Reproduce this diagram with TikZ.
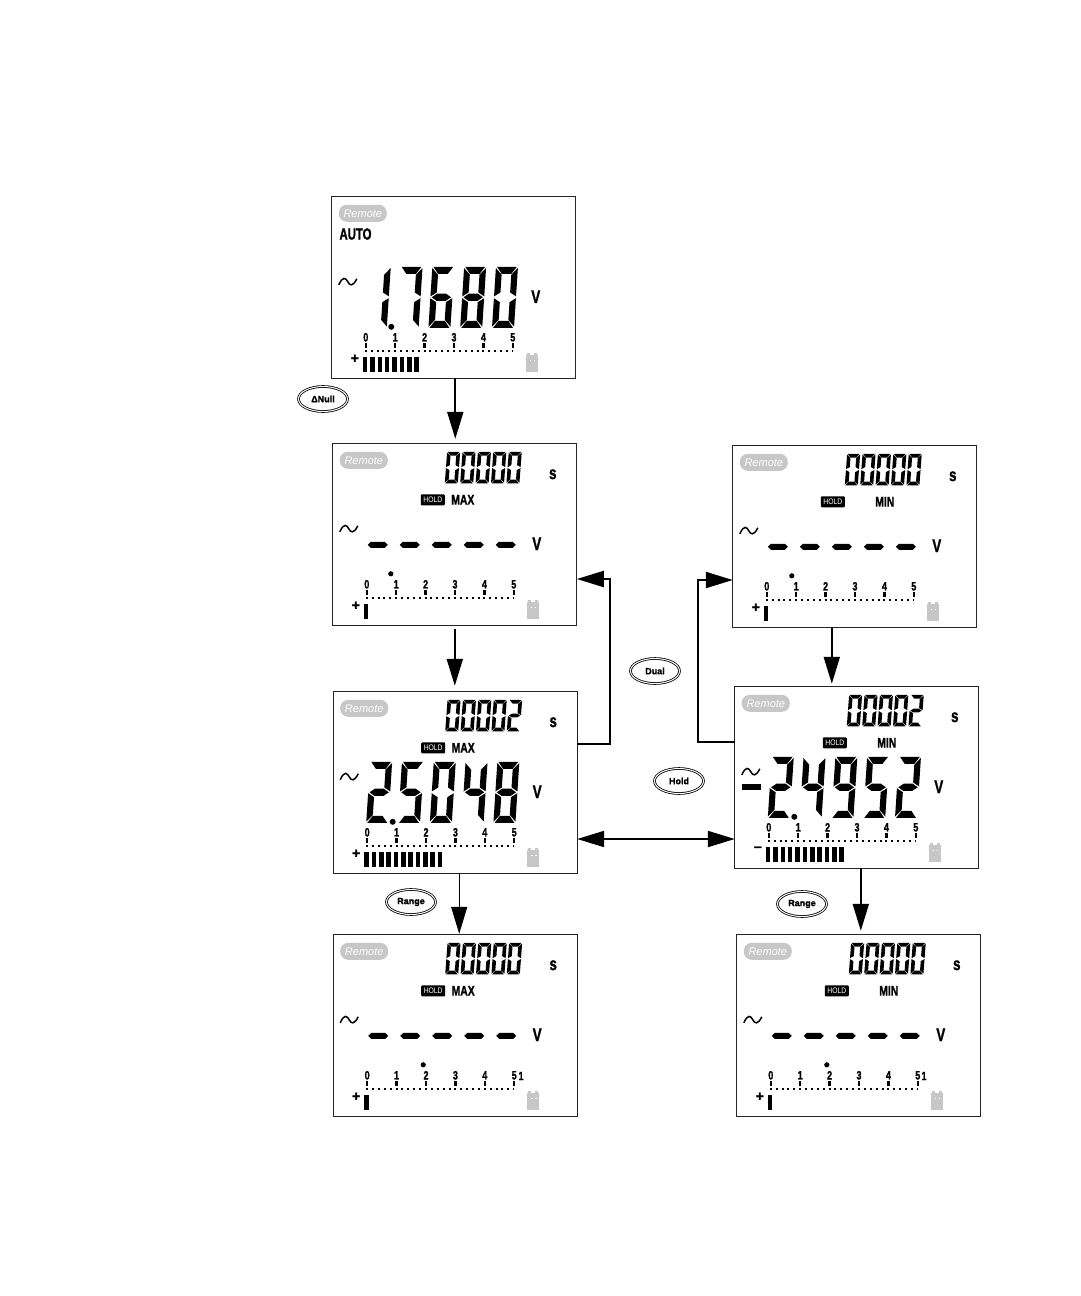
\documentclass[tikz,border=0pt]{standalone}
\usepackage{fontspec}
\setsansfont[BoldFeatures={FakeBold=1.6}]{Liberation Sans}
\usetikzlibrary{positioning,arrows.meta,shapes.geometric}

\tikzset{
  lcdframe/.style={draw=black!85,line width=0.9pt,anchor=north west,minimum width=244pt,minimum height=181.5pt,inner sep=0pt,outer sep=0pt},
  lcdpill/.style={fill=black!22,rounded corners=8pt,minimum width=48pt,minimum height=17pt,inner sep=0pt,text=white,font=\sffamily\itshape\fontsize{11}{11}\selectfont},
  lcdhold/.style={fill=black,rounded corners=1pt,minimum width=24pt,minimum height=11pt,inner sep=0pt,text=white,font=\sffamily\fontsize{8}{8}\selectfont},
  lcdword/.style={inner sep=0pt,font=\sffamily\bfseries\fontsize{14}{14}\selectfont},
  lcdunit/.style={inner sep=0pt,font=\sffamily\bfseries\fontsize{18}{18}\selectfont},
  lcdtick/.style={inner sep=0pt,font=\sffamily\bfseries\fontsize{12}{12}\selectfont},
  lcdvalue/.style={inner sep=0pt,text opacity=0,font=\sffamily\fontsize{#1}{#1}\selectfont},
  lcdkey/.style={ellipse,draw,double,double distance=1pt,line width=0.8pt,minimum width=49pt,minimum height=25pt,inner sep=0pt,font=\sffamily\bfseries\fontsize{9}{9}\selectfont},
  flowarrow/.style={line width=2pt,-{Triangle[length=27pt,width=16pt]}},
  flowboth/.style={line width=2pt,{Triangle[length=27pt,width=16pt]}-{Triangle[length=27pt,width=16pt]}},
}

\newcommand{\lcdnarrow}[1]{\scalebox{.74}[1]{#1}}

% segments of one digit, 1 wide, 2 high, sitting on y=0
\newcommand{\lcdsega}{\fill (.05,-2) -- (.95,-2) -- (.72,-1.77) -- (.28,-1.77) -- cycle;}
\newcommand{\lcdsegb}{\fill (1,-1.96) -- (1,-1.03) -- (.72,-1.16) -- (.72,-1.74) -- cycle;}
\newcommand{\lcdsegc}{\fill (1,-.97) -- (1,-.04) -- (.72,-.26) -- (.72,-.84) -- cycle;}
\newcommand{\lcdsegd}{\fill (.05,0) -- (.95,0) -- (.72,-.23) -- (.28,-.23) -- cycle;}
\newcommand{\lcdsege}{\fill (0,-.97) -- (.28,-.84) -- (.28,-.26) -- (0,-.04) -- cycle;}
\newcommand{\lcdsegf}{\fill (0,-1.96) -- (.28,-1.74) -- (.28,-1.16) -- (0,-1.03) -- cycle;}
\newcommand{\lcdsegg}{\fill (.06,-1) -- (.3,-1.12) -- (.7,-1.12) -- (.94,-1) -- (.7,-.88) -- (.3,-.88) -- cycle;}
\newcommand{\lcddigit}[1]{%
  \ifcase#1\relax
    \lcdsega\lcdsegb\lcdsegc\lcdsegd\lcdsege\lcdsegf
  \or \lcdsegb\lcdsegc
  \or \lcdsega\lcdsegb\lcdsegg\lcdsege\lcdsegd
  \or \lcdsega\lcdsegb\lcdsegg\lcdsegc\lcdsegd
  \or \lcdsegf\lcdsegg\lcdsegb\lcdsegc
  \or \lcdsega\lcdsegf\lcdsegg\lcdsegc\lcdsegd
  \or \lcdsega\lcdsegf\lcdsegg\lcdsege\lcdsegc\lcdsegd
  \or \lcdsega\lcdsegb\lcdsegc
  \or \lcdsega\lcdsegb\lcdsegc\lcdsegd\lcdsege\lcdsegf\lcdsegg
  \or \lcdsega\lcdsegb\lcdsegc\lcdsegd\lcdsegf\lcdsegg
  \fi}

% name, x, y of the screen
\newcommand{\lcdscreen}[3]{%
  \node[lcdframe] (#1) at (#2,#3) {};
  \begin{scope}[shift={(#2,#3)}]
    \node[lcdpill] (#1-remote) at (31,16.5) {Remote};
    \draw[line width=1.5pt] (7,88) .. controls (11,79) and (14,81) .. (16,85) .. controls (18,89) and (21,90) .. (25,82);
    \node[lcdunit] (#1-unit) at (204,100) {\lcdnarrow{V}};
    \draw[line width=2pt,dash pattern=on 2pt off 3.88pt] (33,153.7) -- (181,153.7);
    \foreach \t in {0,...,5}{
      \draw[line width=2.4pt] ({34+\t*29.4},146) -- ({34+\t*29.4},151);
      \node[lcdtick] (#1-tick\t) at ({34+\t*29.4},140.5) {\lcdnarrow{\t}};
    }
    \fill[black!22] (194,158) rectangle (206,175);
    \fill[black!22] (195,156) rectangle (198,158);
    \fill[black!22] (202,156) rectangle (205,158);
    \fill[white] (198,163) rectangle (199.5,164.5);
    \fill[white] (202,163) rectangle (203.5,164.5);
  \end{scope}}

% screen x, screen y, number of bars, sign
\newcommand{\lcdbars}[4]{%
  \begin{scope}[shift={(#1,#2)}]
    \foreach \k in {1,...,#3}{\fill ({31+(\k-1)*7.35},160) rectangle ({35.6+(\k-1)*7.35},175.5);}
    \node[lcdword] (sign#1) at (23,162) {#4};
  \end{scope}}

% screen x, screen y, digit list, text of the value
\newcommand{\lcdbig}[4]{%
  \begin{scope}[shift={(#1,#2)}]
    \node[lcdvalue=40] (value#1) at (110,102) {#4};
    \foreach \d [count=\k from 0] in {#3}{
      \begin{scope}[shift={({33+\k*31.8},131)},xscale=22,yscale=30.5,xslant=-.09]
        \lcddigit{\d}
      \end{scope}
    }
    \fill (59.5,130) circle (3);
  \end{scope}}
\newcommand{\lcdsmall}[4]{%
  \begin{scope}[shift={(#1,#2)}]
    \node[lcdvalue=22] (timer#1) at (150,24) {#4};
    \foreach \d [count=\k from 0] in {#3}{
      \begin{scope}[shift={({112+\k*15.4},39.5)},xscale=13,yscale=15.7,xslant=-.09]
        \lcddigit{\d}
      \end{scope}
    }
    \node[lcdunit] (secs#1) at (220,30.5) {\lcdnarrow{s}};
  \end{scope}}
% screen x, screen y, word, x of the word
\newcommand{\lcdhold}[4]{%
  \begin{scope}[shift={(#1,#2)}]
    \node[lcdhold] (hold#1) at (100,56) {\scalebox{.85}[1]{HOLD}};
    \node[lcdword] (word#1) at (#4,56) {\lcdnarrow{#3}};
  \end{scope}}
% screen x, screen y, x of the pointer dot
\newcommand{\lcdwait}[3]{%
  \begin{scope}[shift={(#1,#2)}]
    \foreach \c in {45,77,109,141,173}{
      \fill (\c-10,101) -- (\c-7,98) -- (\c+7,98) -- (\c+10,101) -- (\c+7,104) -- (\c-7,104) -- cycle;
    }
    \fill (#3,130) circle (2.6);
  \end{scope}}

\begin{document}
\begin{tikzpicture}[x=1pt,y=1pt,yscale=-1,xscale=1]
\useasboundingbox (0,0) rectangle (1080,1296);

% Left column
\lcdscreen{scrAuto}{331.8}{196.8}
\node[lcdword,font=\sffamily\bfseries\fontsize{16}{16}\selectfont] (autoWord) at (355.5,234) {\scalebox{.71}[1]{AUTO}};
\lcdbig{331.8}{196.8}{1,7,6,8,0}{1.7680}
\lcdbars{331.8}{196.8}{8}{+}

\lcdscreen{scrMaxZero}{332.8}{443.8}
\lcdsmall{332.8}{443.8}{0,0,0,0,0}{00000}
\lcdhold{332.8}{443.8}{MAX}{130}
\lcdwait{332.8}{443.8}{58}
\lcdbars{332.8}{443.8}{1}{+}

\lcdscreen{scrMaxRead}{333.2}{691.8}
\lcdsmall{333.2}{691.8}{0,0,0,0,2}{00002}
\lcdhold{333.2}{691.8}{MAX}{130}
\lcdbig{333.2}{691.8}{2,5,0,4,8}{2.5048}
\lcdbars{333.2}{691.8}{11}{+}

\lcdscreen{scrMaxReset}{333.2}{934.8}
\lcdsmall{333.2}{934.8}{0,0,0,0,0}{00000}
\lcdhold{333.2}{934.8}{MAX}{130}
\lcdwait{333.2}{934.8}{90}
\lcdbars{333.2}{934.8}{1}{+}
\node[lcdtick] (maxExtra) at (521,1076) {\lcdnarrow{1}};

% Right column
\lcdscreen{scrMinZero}{732.8}{445.8}
\lcdsmall{732.8}{445.8}{0,0,0,0,0}{00000}
\lcdhold{732.8}{445.8}{MIN}{152}
\lcdwait{732.8}{445.8}{59}
\lcdbars{732.8}{445.8}{1}{+}

\lcdscreen{scrMinRead}{734.8}{686.8}
\lcdsmall{734.8}{686.8}{0,0,0,0,2}{00002}
\lcdhold{734.8}{686.8}{MIN}{152}
\lcdbig{734.8}{686.8}{2,4,9,5,2}{-2.4952}
\fill (742,784) rectangle (761,790);
\lcdbars{734.8}{686.8}{11}{--}

\lcdscreen{scrMinReset}{736.8}{934.8}
\lcdsmall{736.8}{934.8}{0,0,0,0,0}{00000}
\lcdhold{736.8}{934.8}{MIN}{152}
\lcdwait{736.8}{934.8}{90}
\lcdbars{736.8}{934.8}{1}{+}
\node[lcdtick] (minExtra) at (924,1076) {\lcdnarrow{1}};

% Keys
\node[lcdkey] (keyNull) at (323,399) {ΔNull};
\node[lcdkey] (keyDual) at (655,671) {Dual};
\node[lcdkey] (keyHold) at (679,781) {Hold};
\node[lcdkey] (keyRangeMax) at (411,902) {Range};
\node[lcdkey] (keyRangeMin) at (802,904) {Range};

% Arrows
\coordinate (dualLow) at (610,744);
\coordinate (dualHigh) at (610,579);
\coordinate (holdLow) at (698,742);
\coordinate (holdHigh) at (698,580);
\coordinate (swapLine) at (650,839);

\draw[flowarrow,shorten >=5pt] ([xshift=1.5pt]scrAuto.south) -- ([xshift=1.5pt]scrAuto.south |- scrMaxZero.north);
\draw[flowarrow,shorten <=4pt,shorten >=6pt] (scrMaxZero.south) -- (scrMaxZero.south |- scrMaxRead.north);
\draw[flowarrow,line width=1.3pt,shorten >=1pt] ([xshift=4pt]scrMaxRead.south) -- ([xshift=4pt]scrMaxRead.south |- scrMaxReset.north);
\draw[flowarrow] (dualLow -| scrMaxRead.east) -- (dualLow) -- (dualHigh) -- (dualHigh -| scrMaxZero.east);
\draw[flowarrow] (holdLow -| scrMinRead.west) -- (holdLow) -- (holdHigh) -- (holdHigh -| scrMinZero.west);
\draw[flowboth] (swapLine -| scrMaxRead.east) -- (swapLine -| scrMinRead.west);
\draw[flowarrow,shorten >=3pt] ([xshift=-23pt]scrMinZero.south) -- ([xshift=-23pt]scrMinZero.south |- scrMinRead.north);
\draw[flowarrow,shorten >=4pt] ([xshift=4pt]scrMinRead.south) -- ([xshift=4pt]scrMinRead.south |- scrMinReset.north);

\end{tikzpicture}
\end{document}
